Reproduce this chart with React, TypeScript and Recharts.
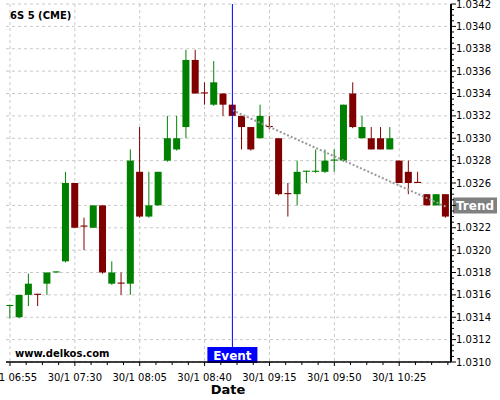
import React from 'react';
import { ComposedChart, Bar, Line, XAxis, YAxis, CartesianGrid, ReferenceLine } from 'recharts';

const TITLE = '6S 5 (CME)';
const SITE = 'www.delkos.com';
const X_TITLE = 'Date';
const EVENT_TEXT = 'Event';
const TREND_TEXT = 'Trend';

const times = [
  '30/1 06:55', '30/1 07:00', '30/1 07:05', '30/1 07:10', '30/1 07:15', '30/1 07:20', '30/1 07:25',
  '30/1 07:30', '30/1 07:35', '30/1 07:40', '30/1 07:45', '30/1 07:50', '30/1 07:55', '30/1 08:00',
  '30/1 08:05', '30/1 08:10', '30/1 08:15', '30/1 08:20', '30/1 08:25', '30/1 08:30', '30/1 08:35',
  '30/1 08:40', '30/1 08:45', '30/1 08:50', '30/1 08:55', '30/1 09:00', '30/1 09:05', '30/1 09:10',
  '30/1 09:15', '30/1 09:20', '30/1 09:25', '30/1 09:30', '30/1 09:35', '30/1 09:40', '30/1 09:45',
  '30/1 09:50', '30/1 09:55', '30/1 10:00', '30/1 10:05', '30/1 10:10', '30/1 10:15', '30/1 10:20',
  '30/1 10:25', '30/1 10:30', '30/1 10:35', '30/1 10:40', '30/1 10:45', '30/1 10:50',
];

const open = [
  1.03150, 1.03140, 1.03160, 1.03161, 1.03170, 1.03180, 1.03190, 1.03260, 1.03222, 1.03220,
  1.03240, 1.03170, 1.03171, 1.03170, 1.03270, 1.03230, 1.03240, 1.03280, 1.03290, 1.03310,
  1.03370, 1.03341, 1.03330, 1.03340, 1.03330, 1.03320, 1.03310, 1.03300, 1.03311, 1.03300,
  1.03251, 1.03250, 1.03270, 1.03270, 1.03270, 1.03280, 1.03280, 1.03340, 1.03300, 1.03300,
  1.03300, 1.03290, 1.03280, 1.03270, 1.03261, 1.03250, 1.03240, 1.03250,
];
const high = [
  1.03151, 1.03160, 1.03179, 1.03161, 1.03180, 1.03181, 1.03270, 1.03260, 1.03229, 1.03240,
  1.03240, 1.03190, 1.03180, 1.03290, 1.03310, 1.03270, 1.03270, 1.03320, 1.03320, 1.03379,
  1.03379, 1.03350, 1.03369, 1.03340, 1.03330, 1.03320, 1.03310, 1.03330, 1.03320, 1.03300,
  1.03260, 1.03280, 1.03271, 1.03290, 1.03290, 1.03290, 1.03330, 1.03350, 1.03320, 1.03310,
  1.03310, 1.03310, 1.03280, 1.03280, 1.03270, 1.03250, 1.03250, 1.03250,
];
const low = [
  1.03139, 1.03139, 1.03150, 1.03150, 1.03160, 1.03180, 1.03189, 1.03220, 1.03200, 1.03220,
  1.03179, 1.03169, 1.03160, 1.03160, 1.03229, 1.03229, 1.03240, 1.03279, 1.03289, 1.03300,
  1.03340, 1.03330, 1.03329, 1.03320, 1.03320, 1.03290, 1.03289, 1.03300, 1.03308, 1.03249,
  1.03230, 1.03240, 1.03260, 1.03269, 1.03269, 1.03270, 1.03279, 1.03309, 1.03300, 1.03290,
  1.03290, 1.03290, 1.03260, 1.03250, 1.03260, 1.03240, 1.03240, 1.03229,
];
const close = [
  1.03151, 1.03160, 1.03170, 1.03160, 1.03180, 1.03181, 1.03260, 1.03220, 1.03221, 1.03240,
  1.03180, 1.03180, 1.03170, 1.03280, 1.03230, 1.03240, 1.03270, 1.03300, 1.03300, 1.03370,
  1.03340, 1.03340, 1.03350, 1.03330, 1.03320, 1.03310, 1.03290, 1.03320, 1.03310, 1.03250,
  1.03250, 1.03270, 1.03271, 1.03271, 1.03280, 1.03281, 1.03330, 1.03310, 1.03310, 1.03290,
  1.03290, 1.03300, 1.03260, 1.03260, 1.03260, 1.03240, 1.03250, 1.03230,
];

const trendIdx = [24, 47];
const trendVal = [1.03325, 1.03239];
const eventIdx = 24;

const yLabelTicks = [
  1.0310, 1.0312, 1.0314, 1.0316, 1.0318, 1.0320, 1.0322, 1.0324, 1.0326,
  1.0328, 1.0330, 1.0332, 1.0334, 1.0336, 1.0338, 1.0340, 1.0342,
];
const xLabelIdx = [0, 7, 14, 21, 28, 35, 42];

const UP = '#008000';
const DOWN = '#800000';
const FONT = 'DejaVu Sans';
const TREND_END = trendVal[trendVal.length - 1];

const data = times.map((t, i) => {
  const k = trendIdx.indexOf(i);
  return {
    idx: i,
    time: t,
    open: open[i],
    high: high[i],
    low: low[i],
    close: close[i],
    trend: k >= 0 ? trendVal[k] : null,
  };
});

// axis tick positions (minor subdivisions between labelled ticks)
const yAllTicks: number[] = [];
for (let k = 0; k <= 64; k++) yAllTicks.push(Math.round((1.031 + k * 0.00005) * 1e5) / 1e5);
const xAllTicks: number[] = [];
for (let k = 0; k <= 27; k++) xAllTicks.push(k * 1.75);

const Candle = (props: any) => {
  const { x, y, width, height, payload } = props;
  if (payload == null || x == null) return null;
  const { open: o, close: c, high: h, low: l } = payload;
  const span = h - l;
  const pix = (v: number) => (span > 0 ? y + ((h - v) / span) * height : y);
  const color = c >= o ? UP : DOWN;
  const cx = x + width / 2;
  const top = Math.min(pix(o), pix(c));
  const bot = Math.max(pix(o), pix(c));
  const bh = Math.max(1, bot - top);
  return (
    <g>
      <line x1={cx} x2={cx} y1={pix(h)} y2={pix(l)} stroke={color} strokeWidth={1} />
      <rect x={x} y={top} width={width} height={bh} fill={color} />
    </g>
  );
};

const XTick = (p: any) => {
  const { x, y, payload } = p;
  const v = payload.value;
  const major = Math.abs(v / 7 - Math.round(v / 7)) < 1e-6;
  return (
    <g>
      <line x1={x} x2={x} y1={y} y2={y + (major ? 4 : 3)} stroke="#000" strokeWidth={1} />
      {major && (
        <text x={x} y={y + 18.5} textAnchor="middle" fontSize={10} fontFamily={FONT} fill="#000">
          {times[Math.round(v)]}
        </text>
      )}
    </g>
  );
};

const YTick = (p: any) => {
  const { x, y, payload } = p;
  const v = payload.value;
  const major = Math.round(v * 1e5) % 20 === 0;
  // the label at the trend end hides the tick label it covers
  const covered = Math.abs(v - TREND_END) < 0.00008;
  return (
    <g>
      <line x1={x} x2={x + (major ? 5 : 3)} y1={y} y2={y} stroke="#000" strokeWidth={1} />
      {major && !covered && (
        <text x={x + 5} y={y} dy="0.36em" textAnchor="start" fontSize={10} fontFamily={FONT} fill="#000">
          {v.toFixed(4)}
        </text>
      )}
    </g>
  );
};

const EventLabel = (p: any) => {
  const vb = p.viewBox || {};
  const cx = vb.x;
  const bottom = Math.max(vb.y, vb.y + (vb.height || 0));
  return (
    <g>
      <rect x={cx - 25} y={bottom - 15} width={50} height={16} fill="#0000ff" />
      <text x={cx} y={bottom - 2.5} textAnchor="middle" fontSize={12} fontWeight="bold" fontFamily={FONT} fill="#fff">
        {EVENT_TEXT}
      </text>
    </g>
  );
};

const TrendLabel = (p: any) => {
  const vb = p.viewBox || {};
  const right = Math.max(vb.x, vb.x + (vb.width || 0));
  const cy = vb.y;
  return (
    <g>
      <rect x={right + 2} y={cy - 9} width={44} height={16} fill="#808080" />
      <text x={right + 24} y={cy + 3.5} textAnchor="middle" fontSize={12} fontWeight="bold" fontFamily={FONT} fill="#fff">
        {TREND_TEXT}
      </text>
    </g>
  );
};

export default function App() {
  return (
    <div style={{ position: 'absolute', left: 0, top: 0, width: 500, height: 400, background: '#fff' }}>
      <ComposedChart
        width={500}
        height={400}
        data={data}
        margin={{ top: 4, right: 0, bottom: 0, left: 6 }}
      >
        <CartesianGrid
          stroke="#c8c8c8"
          strokeDasharray="3 3"
          horizontalValues={yLabelTicks}
          verticalValues={xLabelIdx}
        />
        <XAxis
          dataKey="idx"
          type="number"
          domain={[-0.43, 47.59]}
          allowDataOverflow
          ticks={xAllTicks}
          interval={0}
          tick={<XTick />}
          tickLine={false}
          tickSize={0}
          tickMargin={0}
          axisLine={{ stroke: '#000', strokeWidth: 1.5 }}
          height={38}
        />
        <YAxis
          orientation="right"
          type="number"
          domain={[1.031, 1.0342]}
          allowDataOverflow
          ticks={yAllTicks}
          interval={0}
          tick={<YTick />}
          tickLine={false}
          tickSize={0}
          tickMargin={0}
          axisLine={{ stroke: '#000', strokeWidth: 2 }}
          width={49}
        />
        <Line
          dataKey="trend"
          stroke="#999999"
          strokeWidth={2}
          strokeDasharray="2 2"
          dot={false}
          connectNulls
          isAnimationActive={false}
        />
        <Bar
          dataKey={(d: any) => [d.low, d.high]}
          barSize={7}
          shape={<Candle />}
          isAnimationActive={false}
        />
        <ReferenceLine x={eventIdx} stroke="#0000ff" strokeWidth={1} label={(p: any) => <EventLabel {...p} />} />
        <ReferenceLine
          y={TREND_END}
          stroke="none"
          strokeOpacity={0}
          label={(p: any) => <TrendLabel {...p} />}
        />
      </ComposedChart>
      <svg width={500} height={400} style={{ position: 'absolute', left: 0, top: 0, pointerEvents: 'none' }}>
        <text x={10} y={19} fontSize={10} fontWeight="bold" fontFamily={FONT} fill="#000">{TITLE}</text>
        <text x={15} y={357} fontSize={10} fontWeight="bold" fontFamily={FONT} fill="#000">{SITE}</text>
        <text x={228} y={394} textAnchor="middle" fontSize={13} fontWeight="bold" fontFamily={FONT} fill="#000">{X_TITLE}</text>
      </svg>
    </div>
  );
}
